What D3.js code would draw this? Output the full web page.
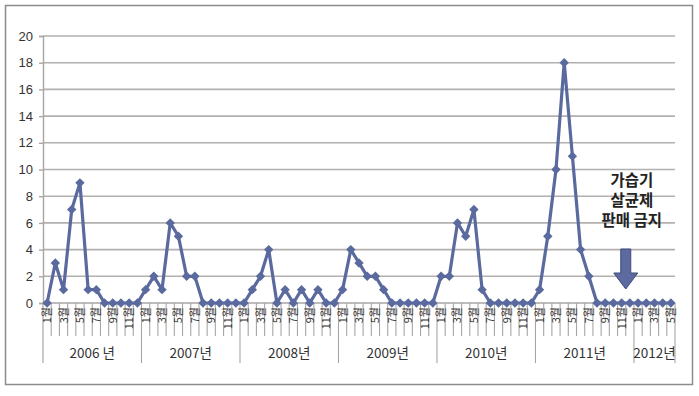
<!DOCTYPE html>
<html>
<head>
<meta charset="utf-8">
<script src="https://cdn.jsdelivr.net/npm/d3@7"></script>
<style>
  body { margin: 0; background: #fff; }
  svg { display: block; font-family: "Noto Sans CJK KR", "Noto Sans", sans-serif; }
</style>
</head>
<body>
<svg id="chart" width="699" height="396"></svg>
<script>
// monthly counts, 2006-01 .. 2012-05
var years = ['2006 년', '2007년', '2008년', '2009년', '2010년', '2011년', '2012년'];
var monthsPerYear = [12, 12, 12, 12, 12, 12, 5];
var values2006 = [0, 3, 1, 7, 9, 1, 1, 0, 0, 0, 0, 0];
var values2007 = [1, 2, 1, 6, 5, 2, 2, 0, 0, 0, 0, 0];
var values2008 = [0, 1, 2, 4, 0, 1, 0, 1, 0, 1, 0, 0];
var values2009 = [1, 4, 3, 2, 2, 1, 0, 0, 0, 0, 0, 0];
var values2010 = [2, 2, 6, 5, 7, 1, 0, 0, 0, 0, 0, 0];
var values2011 = [1, 5, 10, 18, 11, 4, 2, 0, 0, 0, 0, 0];
var values2012 = [0, 0, 0, 0, 0];
var yTicks = [0, 2, 4, 6, 8, 10, 12, 14, 16, 18, 20];
var noteLines = ['가습기', '살균제', '판매 금지'];

var chart = d3.select('#chart'),
	margin = { top: 36, left: 43, right: 24, bottom: 93 },
	svgWidth = 699,
	svgHeight = 396,
	bottomY = svgHeight - margin.bottom;

// flatten into one list of {i, year, month, value}
var dataset = [];
[values2006, values2007, values2008, values2009, values2010, values2011, values2012].forEach(function(arr, yi) {
	arr.forEach(function(v, m) {
		dataset.push({ i: dataset.length, year: yi, month: m + 1, value: v });
	});
});

var xScale = d3.scaleBand()
	.domain(d3.range(dataset.length))
	.range([margin.left, svgWidth - margin.right])
	.padding(0);
var bw = xScale.bandwidth();
var cx = function(i) { return xScale(i) + bw / 2; };

var yScale = d3.scaleLinear()
	.domain([0, 20])
	.range([bottomY, margin.top]);

// frame
chart.append('rect')
	.attr('x', 5.5).attr('y', 5.5)
	.attr('width', 687).attr('height', 379)
	.attr('fill', '#fff')
	.attr('stroke', '#8c8c8c')
	.attr('stroke-width', 1.5);

// gridlines
chart.append('g')
	.selectAll('line')
	.data(yTicks.filter(function(d) { return d > 0; }))
	.enter()
	.append('line')
	.attr('x1', margin.left).attr('x2', svgWidth - margin.right)
	.attr('y1', function(d) { return yScale(d); })
	.attr('y2', function(d) { return yScale(d); })
	.attr('stroke', '#b3b0ae')
	.attr('stroke-width', 1.6);

// y axis
var yAxis = d3.axisLeft(yScale).tickValues(yTicks).tickSize(4).tickPadding(6);
var gy = chart.append('g')
	.attr('transform', 'translate(' + margin.left + ',0)')
	.call(yAxis);
gy.select('.domain').attr('stroke', '#a8a6a4').attr('stroke-width', 1.4);
gy.selectAll('.tick line').attr('stroke', '#a8a6a4').attr('stroke-width', 1.4);
gy.selectAll('.tick text').attr('font-size', 13).attr('fill', '#333');

// left axis extends down through the label area
chart.append('line')
	.attr('x1', margin.left).attr('x2', margin.left)
	.attr('y1', bottomY).attr('y2', 363)
	.attr('stroke', '#a8a6a4').attr('stroke-width', 1.2);

// x axis line
chart.append('line')
	.attr('x1', margin.left).attr('x2', svgWidth - margin.right)
	.attr('y1', bottomY).attr('y2', bottomY)
	.attr('stroke', '#a8a6a4').attr('stroke-width', 1.4);

// category ticks and year separators
var yearStart = [0];
monthsPerYear.forEach(function(n, k) { yearStart.push(yearStart[k] + n); });
var boundaries = d3.range(1, dataset.length + 1);
chart.append('g')
	.selectAll('line')
	.data(boundaries)
	.enter()
	.append('line')
	.attr('x1', function(b) { return xScale(b - 1) + bw; })
	.attr('x2', function(b) { return xScale(b - 1) + bw; })
	.attr('y1', bottomY)
	.attr('y2', function(b) { return yearStart.indexOf(b) >= 0 ? 363 : 336; })
	.attr('stroke', '#a8a6a4')
	.attr('stroke-width', 1.1);

// month labels (odd months), rotated
chart.append('g')
	.selectAll('text')
	.data(dataset.filter(function(d) { return d.month % 2 === 1; }))
	.enter()
	.append('text')
	.attr('transform', function(d) { return 'translate(' + (cx(d.i) + 4) + ',' + (bottomY + 4) + ') rotate(-90)'; })
	.attr('text-anchor', 'end')
	.attr('font-size', 11)
	.attr('fill', '#333')
	.text(function(d) { return d.month + '월'; });

// year labels
chart.append('g')
	.selectAll('text')
	.data(years)
	.enter()
	.append('text')
	.attr('x', function(d, k) { return (xScale(yearStart[k]) + xScale(yearStart[k + 1] - 1) + bw) / 2; })
	.attr('y', 358)
	.attr('text-anchor', 'middle')
	.attr('font-size', 13.5)
	.attr('fill', '#333')
	.text(function(d) { return d; });

// series line
var lineColor = '#5b6a9e';
chart.append('path')
	.datum(dataset)
	.attr('fill', 'none')
	.attr('stroke', lineColor)
	.attr('stroke-width', 3.2)
	.attr('stroke-linejoin', 'round')
	.attr('d', d3.line()
		.x(function(d) { return cx(d.i); })
		.y(function(d) { return yScale(d.value); }));

// diamond markers
chart.append('g')
	.selectAll('path')
	.data(dataset)
	.enter()
	.append('path')
	.attr('transform', function(d) { return 'translate(' + cx(d.i) + ',' + yScale(d.value) + ') rotate(45)'; })
	.attr('d', d3.symbol(d3.symbolSquare, 44))
	.attr('fill', lineColor);

// annotation
var noteX = cx(71) + 2;
chart.append('g')
	.selectAll('text')
	.data(noteLines)
	.enter()
	.append('text')
	.attr('x', noteX)
	.attr('y', function(d, k) { return 186 + k * 20; })
	.attr('text-anchor', 'middle')
	.attr('font-size', 15.5)
	.attr('font-weight', 'bold')
	.attr('fill', '#222')
	.text(function(d) { return d; });

// down arrow
var ax = (cx(70) + cx(71)) / 2;
chart.append('path')
	.attr('d', 'M' + (ax - 5) + ',249 L' + (ax + 5) + ',249 L' + (ax + 5) + ',273 L' + (ax + 12) + ',273 L' + ax + ',289 L' + (ax - 12) + ',273 L' + (ax - 5) + ',273 Z')
	.attr('fill', '#5d6aa0')
	.attr('stroke', '#3f4a7a')
	.attr('stroke-width', 1);
</script>
</body>
</html>
